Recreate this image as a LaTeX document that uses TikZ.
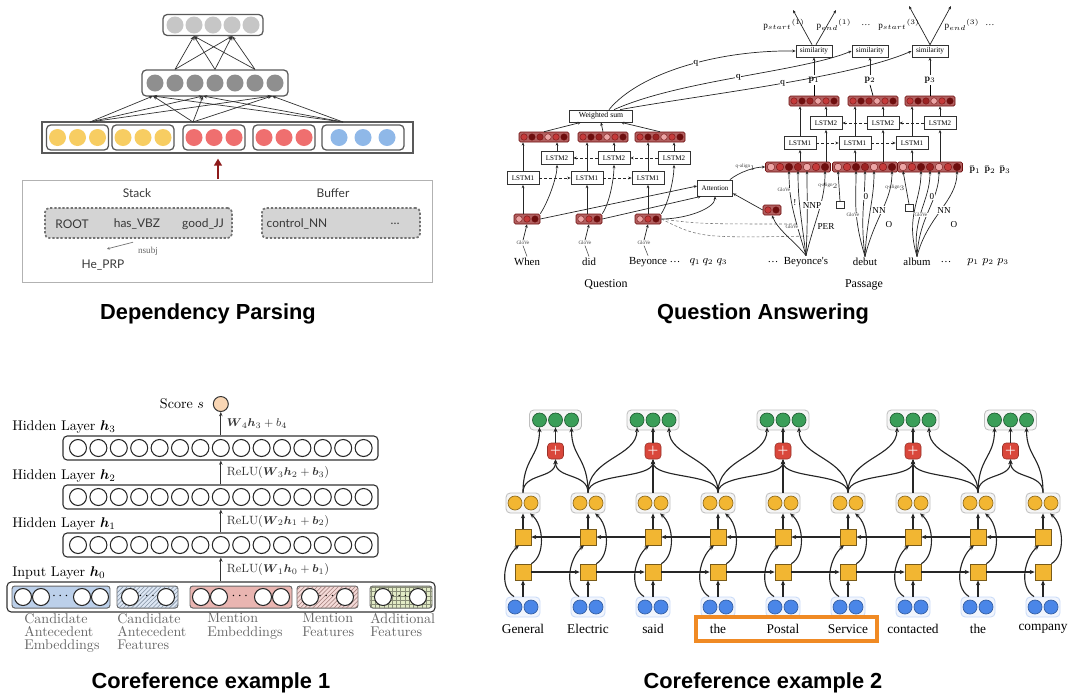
\documentclass[tikz,border=0pt]{standalone}
\usepackage{fontspec}
\usepackage{amsmath}
\usetikzlibrary{arrows.meta,patterns,positioning,calc}

\newfontfamily\headfont{Liberation Sans}
\newfontfamily\dpfont{Lato}
\newfontfamily\qafont{Liberation Serif}

\definecolor{dpyellow}{HTML}{F7CD62}
\definecolor{dpred}{HTML}{EF6F6F}
\definecolor{dpblue}{HTML}{8FB8E8}
\definecolor{dplight}{HTML}{C6C6C6}
\definecolor{dpdark}{HTML}{8F8F8F}
\definecolor{dparrowred}{HTML}{8E1B1B}
\definecolor{qbg}{HTML}{B26060}
\definecolor{qc0}{HTML}{6E0E0E}
\definecolor{qc1}{HTML}{C43A3A}
\definecolor{qc2}{HTML}{EBA5A5}
\definecolor{qc3}{HTML}{9C2323}
\definecolor{cablue}{HTML}{BCD0EA}
\definecolor{cared}{HTML}{E9B5B1}
\definecolor{cagreen}{HTML}{E2EBC6}
\definecolor{scorefill}{HTML}{F9D6B4}
\definecolor{wblue}{HTML}{4A86E8}
\definecolor{wyellow}{HTML}{F2B632}
\definecolor{wgreen}{HTML}{3A9E58}
\definecolor{wred}{HTML}{D9473B}
\definecolor{spanorange}{HTML}{F08A24}

\def\pxu{0.025cm}

% small vector of coloured cells: name, x, y, cells, spacing
\newcommand\qvec[5]{%
  \node[qvecbox, minimum width={(#4*#5+2)*\pxu}] (#1) at (#2,#3) {};
  \foreach \j in {1,...,#4} {
    \pgfmathtruncatemacro\qk{mod(\j*3+#4,4)}
    \node[qdot, fill=qc\qk, minimum size={(#5-1.5)*\pxu}] (#1-\j) at ({#2+(\j-(#4+1)/2)*#5},#3) {};
  }
}

\tikzset{
  paneltitle/.style={font=\headfont\bfseries\fontsize{15.5}{18}\selectfont},
  % dependency parsing
  dpgroup/.style={draw=black!65, line width=0.9pt, rounded corners=3pt, fill=white, minimum height=25*\pxu, inner sep=0},
  dpdot/.style={circle, minimum size=17*\pxu, inner sep=0},
  dptext/.style={font=\dpfont\fontsize{8.5}{10}\selectfont, text=black!78},
  dparr/.style={-{Stealth[length=3pt,width=2.4pt]}, black!80, line width=0.5pt},
  dashbox/.style={draw=black!55, fill=black!17, dash pattern=on 1.6pt off 1.3pt, line width=1.2pt, rounded corners=3pt, minimum height=30*\pxu, inner sep=0},
  % question answering
  qbox/.style={draw=black!80, line width=0.5pt, fill=white, inner sep=0.5pt, font=\qafont\fontsize{5}{6}\selectfont, minimum height=13*\pxu},
  qword/.style={font=\qafont\fontsize{7.7}{9}\selectfont, inner sep=1pt},
  qtiny/.style={font=\qafont\fontsize{3.6}{4}\selectfont, text=black!75, inner sep=0.4pt},
  qlab/.style={font=\qafont\fontsize{6.5}{7}\selectfont, inner sep=0.5pt, fill=white},
  qarr/.style={-{Stealth[length=2.4pt,width=2pt]}, line width=0.5pt, black!85},
  qdash/.style={qarr, dash pattern=on 2pt off 1.5pt},
  qvecbox/.style={draw=qc0, fill=qbg, line width=0.4pt, rounded corners=1pt, minimum height=10*\pxu, inner sep=0},
  qdot/.style={circle, draw=qc0, line width=0.25pt, inner sep=0},
  % coreference 1
  c1layer/.style={draw=black!80, line width=0.8pt, rounded corners=3pt, minimum width=315*\pxu, minimum height=24*\pxu, inner sep=0},
  c1dot/.style={circle, draw=black!85, line width=0.75pt, fill=white, minimum size=17*\pxu, inner sep=0},
  c1grp/.style={draw=black!60, line width=0.7pt, rounded corners=2pt, minimum height=22*\pxu, inner sep=0},
  c1lab/.style={font=\fontsize{10}{11}\selectfont, anchor=west, inner sep=0},
  c1small/.style={font=\fontsize{8.5}{10}\selectfont, anchor=west, inner sep=1pt, xshift=3pt},
  c1under/.style={font=\fontsize{10}{9.4}\selectfont, text=black!60, align=left, anchor=north west, inner sep=0},
  c1arr/.style={-{Stealth[length=3pt,width=2.5pt]}, line width=0.6pt, black!80},
  % coreference 2
  c2word/.style={font=\qafont\fontsize{9.5}{11}\selectfont},
  c2holder/.style={draw=black!25, fill=black!4, rounded corners=3pt, line width=0.6pt, minimum height=20*\pxu, inner sep=0},
  c2dot/.style={circle, line width=0.5pt, minimum size=14*\pxu, inner sep=0},
  c2sq/.style={draw=wyellow!50!black, fill=wyellow, line width=0.5pt, minimum size=16*\pxu, inner sep=0},
  c2plus/.style={fill=wred, draw=wred!70!black, rounded corners=2.5pt, minimum size=16*\pxu, inner sep=0, text=white, font=\bfseries\fontsize{8}{8}\selectfont},
  c2arr/.style={-{Stealth[length=3.5pt,width=3pt]}, line width=0.8pt, black!85},
}

\begin{document}
\begin{tikzpicture}[x=0.025cm, y=-0.025cm]
\useasboundingbox (0,0) rectangle (1070,693);

%% ---------- Dependency Parsing ----------
% Draw the two hidden layers
\node[dpgroup, minimum width=100*\pxu, minimum height=21*\pxu] (dptop) at (213,25) {};
\foreach \i in {0,...,4}
  \node[dpdot, fill=dplight] (dt\i) at (175+19*\i,25) {};
\node[dpgroup, minimum width=146*\pxu, minimum height=26*\pxu] (dpmid) at (215,83) {};
\foreach \i in {0,...,6}
  \node[dpdot, fill=dpdark] (dm\i) at (155+20*\i,83) {};

% Draw the input layer
\node[draw=black!65, line width=0.8pt, fill=white, minimum width=371*\pxu, minimum height=31*\pxu, inner sep=0] (dpin) at (227.5,137.5) {};
\foreach \cx/\gw/\gs/\col [count=\kk] in {77.5/62/20/dpyellow, 143/62/20/dpyellow, 214/62/20/dpred, 284/62/20/dpred, 363/82/24/dpblue} {
  \node[dpgroup, minimum width=\gw*\pxu] (dg\kk) at (\cx,137.5) {};
  \foreach \j [count=\jj] in {-1,0,1}
    \node[dpdot, fill=\col] (dg\kk-\jj) at (\cx+\gs*\j,137.5) {};
}

% Connections between the layers
\foreach \a in {1,3,5}
  \foreach \b in {1,3}
    \draw[dparr] (dpmid.north -| dm\a) -- (dptop.south -| dt\b);
\coordinate (dps1) at (90,122);
\coordinate (dps2) at (193,122);
\coordinate (dps3) at (343,122);
\coordinate (dpt1) at (153,96);
\coordinate (dpt2) at (203,96);
\coordinate (dpt3) at (272,96);
\foreach \a in {1,2,3}
  \foreach \b in {1,2,3}
    \draw[dparr] (dps\a) -- (dpt\b);

% Configuration box
\node[draw=black!30, line width=0.6pt, minimum width=410*\pxu, minimum height=102*\pxu, inner sep=0] (dpframe) at (227,231) {};
\coordinate (dpup) at (218,179);
\draw[-{Triangle[length=5pt,width=5.5pt]}, dparrowred, line width=1.6pt] (dpup) -- ($(dpin.south -| dpup)+(0,5)$);
\node[dptext] (stack) at (137,193) {Stack};
\node[dptext] (buffer) at (333,193) {Buffer};
\node[dashbox, minimum width=187*\pxu] (stackbox) at (138.5,223) {};
\node[dashbox, minimum width=158*\pxu] (bufbox) at (341,223) {};
\node[dptext] (root) at (72,224) {ROOT};
\node[dptext] (has) at (137,224) {has\_VBZ};
\node[dptext] (good) at (203,224) {good\_JJ};
\node[dptext] (ctrl) at (297,224) {control\_NN};
\node[dptext] (bdots) at (395,224) {\dots};
\node[dptext] (he) at (103,265) {He\_PRP};
\draw[-{Stealth[length=2pt,width=2pt]}, black!55, line width=0.5pt] ($(has.south)+(-4,8)$) -- ($(he.north)+(4,-6)$);
\node[font=\qafont\fontsize{6.5}{7}\selectfont, text=black!60] (nsubj) at (148,251) {nsubj};

\node[paneltitle] (title1) at (208,314) {Dependency Parsing};

%% ---------- Question Answering ----------
% Question side
\foreach \n/\x/\qw in {a/527/When, b/589/did, c/648/Beyonce} {
  \node[qword] (qw\n) at (\x,262) {\qw};
  \node[qtiny] (qg\n) at (\x-4,243) {GloVe};
  \qvec{qe\n}{\x}{219}{3}{8}
  \draw[black!70, line width=0.4pt] (qw\n.north) -- (qg\n.south);
  \draw[qarr] (qg\n.north) -- (qe\n.south);
}
\foreach \n/\xa/\xb/\xh in {a/523/557/544, b/587/614/603, c/648/674/660} {
  \node[qbox, minimum width=32*\pxu] (ql1\n) at (\xa,178) {LSTM1};
  \node[qbox, minimum width=32*\pxu] (ql2\n) at (\xb,158) {LSTM2};
  \qvec{qh\n}{\xh}{137}{6}{8}
  \draw[qarr] (qe\n.north -| ql1\n) -- (ql1\n.south);
  \draw[qarr] (qe\n.north east) .. controls +(8,-12) and +(0,12) .. (ql2\n.south);
  \draw[qarr] (ql1\n.north) -- (qh\n.south -| ql1\n);
  \draw[qarr] (ql2\n.north) -- (qh\n.south -| ql2\n);
}
\draw[qdash] (ql1a) -- (ql1b);
\draw[qdash] (ql1b) -- (ql1c);
\draw[qdash] (ql2c) -- (ql2b);
\draw[qdash] (ql2b) -- (ql2a);

\node[qbox, minimum width=63*\pxu, minimum height=12*\pxu, font=\qafont\fontsize{5.5}{6}\selectfont] (qws) at (601,116) {Weighted sum};
\draw[qarr] (qha.north) -- ($(qws.south)+(-20,0)$);
\draw[qarr] (qhb.north) -- (qws.south);
\draw[qarr] (qhc.north) -- ($(qws.south)+(20,0)$);

\node[qword] (qdots) at (675,262) {\dots};
\node[qword] (qq1) at (695,262) {$q_1$};
\node[qword] (qq2) at (708,262) {$q_2$};
\node[qword] (qq3) at (722,262) {$q_3$};
\node[qword, font=\qafont\fontsize{8.5}{10}\selectfont] (qlabel) at (606,285) {Question};

% Attention
\node[qbox, minimum width=35*\pxu, minimum height=16*\pxu] (qatt) at (715,188) {Attention};
\draw[qarr] (qea.east) -- ($(qatt.west)+(0,-2)$);
\draw[qarr] (qeb.east) -- ($(qatt.south west)+(4,0)$);
\draw[qarr] (qec.east) .. controls +(25,0) and +(0,12) .. (qatt.south);
\qvec{qsm}{772}{210}{2}{8}
\draw[qarr] (qsm.west) -- ($(qatt.south east)+(0,-3)$);
\coordinate (qd1) at (798,224);
\coordinate (qd2) at (812,236);
\draw[black!55, line width=0.4pt, dash pattern=on 2pt off 1.5pt] (qec.east) .. controls (700,224) .. (qd1);
\draw[black!55, line width=0.4pt, dash pattern=on 2pt off 1.5pt] (qec.east) .. controls (700,238) .. (qd2);

% Passage side
\foreach \n/\xe/\xa/\xb/\xh/\xs/\kk in {a/798/800/826/814/814/1, b/865/855/883/873/870/2, c/930/912/940/930/930/3} {
  \qvec{pe\n}{\xe}{167}{7}{9}
  \node[qbox, minimum width=32*\pxu] (pl1\n) at (\xa,143) {LSTM1};
  \node[qbox, minimum width=32*\pxu] (pl2\n) at (\xb,123) {LSTM2};
  \qvec{ph\n}{\xh}{101}{6}{8}
  \node[font=\fontsize{7}{8}\selectfont, inner sep=1pt] (pP\n) at (\xs,80) {$\mathbf{p}_{\kk}$};
  \node[qbox, minimum width=36*\pxu, minimum height=12*\pxu, font=\qafont\fontsize{5.2}{6}\selectfont] (sim\n) at (\xs,51) {similarity};
  \draw[qarr] (pe\n.north -| pl1\n) -- (pl1\n.south);
  \draw[qarr] (pe\n.north -| pl2\n) -- (pl2\n.south);
  \draw[qarr] (pl1\n.north) -- (ph\n.south -| pl1\n);
  \draw[qarr] (pl2\n.north) -- (ph\n.south -| pl2\n);
  \draw[line width=0.5pt] (ph\n.north) -- (pP\n.south);
  \draw[qarr] (pP\n.north) -- (sim\n.south);
}
\draw[qdash] (pl1a) -- (pl1b);
\draw[qdash] (pl1b) -- (pl1c);
\draw[qdash] (pl2c) -- (pl2b);
\draw[qdash] (pl2b) -- (pl2a);
\draw[qarr] ($(qatt.north east)+(-3,0)$) .. controls +(10,-8) and +(-10,0) .. (pea.west) node[qtiny, pos=0.45, above] {q-align$_1$};

% Answer scores
\coordinate (s1l) at (793,10);
\coordinate (s1r) at (836,10);
\coordinate (s3l) at (909,6);
\coordinate (s3r) at (951,6);
\draw[qarr] ($(sima.north)+(-2,0)$) -- (s1l);
\draw[qarr] ($(sima.north)+(2,0)$) -- (s1r);
\draw[qarr] (simc.north) -- (s3l);
\draw[qarr] (simc.north) -- (s3r);
\node[qlab, fill=none] (ps1) at (784,25) {p$_{start}$$^{(1)}$};
\node[qlab, fill=none] (pe1l) at (834,25) {p$_{end}$$^{(1)}$};
\node[qlab, fill=none] (pdd1) at (866,25) {\dots};
\node[qlab, fill=none] (ps3) at (899,25) {p$_{start}$$^{(3)}$};
\node[qlab, fill=none] (pe3l) at (962,25) {p$_{end}$$^{(3)}$};
\node[qlab, fill=none] (pdd3) at (990,25) {\dots};

% Question vectors
\draw[qarr] ($(qws.north)+(8,0)$) .. controls (640,72) and (720,50) .. (sima.west) node[qlab, pos=0.55] {$\mathbf{q}$};
\draw[qarr] ($(qws.north)+(13,0)$) .. controls (680,80) and (800,72) .. (simb.west) node[qlab, pos=0.5] {$\mathbf{q}$};
\draw[qarr] ($(qws.north)+(19,0)$) .. controls (700,95) and (850,78) .. (simc.west) node[qlab, pos=0.53] {$\mathbf{q}$};

% Passage words and features
\node[qword] (pdots) at (773,262) {\dots};
\node[qword] (pwa) at (806,262) {Beyonce's};
\node[qword] (pwb) at (865,262) {debut};
\node[qword] (pwc) at (917,262) {album};
\node[qword] (pdots2) at (946,262) {\dots};
\node[qword] (pp1) at (973,262) {$p_1$};
\node[qword] (pp2) at (988,262) {$p_2$};
\node[qword] (pp3) at (1003,262) {$p_3$};
\node[qword, font=\qafont\fontsize{8.5}{10}\selectfont] (plabel) at (864,285) {Passage};
\node[font=\fontsize{7}{8}\selectfont] (pbar1) at (975,170) {$\bar{\mathbf{p}}_1$};
\node[font=\fontsize{7}{8}\selectfont] (pbar2) at (990,170) {$\bar{\mathbf{p}}_2$};
\node[font=\fontsize{7}{8}\selectfont] (pbar3) at (1005,170) {$\bar{\mathbf{p}}_3$};

\draw[qarr] (pwa.north) .. controls +(-12,-15) and +(6,15) .. (qsm.south);
\foreach \n in {a,b,c} {
  \draw[qarr] (pw\n.north) .. controls +(-12,-40) and +(0,30) .. (pe\n-3.south);
  \draw[qarr] (pw\n.north) .. controls +(-5,-40) and +(0,30) .. (pe\n-4.south);
  \draw[qarr] (pw\n.north) .. controls +(2,-40) and +(0,30) .. (pe\n-5.south);
  \draw[qarr] (pw\n.north) .. controls +(10,-40) and +(0,30) .. (pe\n-7.south);
}
\node[qtiny, fill=white] (pga) at (784,190) {GloVe};
\node[qtiny, fill=white] (pgq) at (792,227) {GloVe};
\node[qlab] (pbang) at (795,203) {!};
\node[qlab] (pnnp) at (812,205) {NNP};
\node[qlab] (pper) at (826,226) {PER};
\node[qtiny, fill=white] (pgb) at (853,215) {GloVe};
\node[qlab] (pb0) at (866,196) {0};
\node[qlab] (pbnn) at (879,210) {NN};
\node[qlab] (pbo) at (889,225) {O};
\node[qtiny, fill=white] (pgc) at (921,215) {GloVe};
\node[qlab] (pc0) at (932,196) {0};
\node[qlab] (pcnn) at (944,210) {NN};
\node[qlab] (pco) at (954,225) {O};
\node[draw=black!80, fill=white, line width=0.4pt, minimum width=8*\pxu, minimum height=7*\pxu, inner sep=0] (qa2) at (840,205) {};
\node[draw=black!80, fill=white, line width=0.4pt, minimum width=8*\pxu, minimum height=7*\pxu, inner sep=0] (qa3) at (909,208) {};
\draw[qarr] (qa2.north) -- (peb-1.south) node[qtiny, midway, left] {q-align$_2$};
\draw[qarr] (qa3.north) -- (pec-1.south) node[qtiny, midway, left] {q-align$_3$};

\node[paneltitle] (title2) at (763,314) {Question Answering};

%% ---------- Coreference example 1 ----------
% Draw the hidden layers
\foreach \yy/\n in {448/3, 497/2, 545/1} {
  \node[c1layer] (ch\n) at (220.5,\yy) {};
  \foreach \i in {0,...,14}
    \node[c1dot] (ch\n-\i) at (78+20.4*\i,\yy) {};
  \node[c1lab] (chl\n) at (12,\yy-21) {Hidden Layer $\boldsymbol{h}_{\n}$};
}

% Draw the input layer
\node[c1layer, minimum width=428*\pxu, minimum height=30*\pxu] (ch0) at (221,597) {};
\node[c1lab] (chl0) at (12,573) {Input Layer $\boldsymbol{h}_0$};
\node[c1grp, minimum width=98*\pxu, fill=cablue] (cg1) at (61,597) {};
\node[c1grp, minimum width=61*\pxu, fill=cablue!50, postaction={pattern=north east lines, pattern color=cablue!70!black}] (cg2) at (147.5,597) {};
\node[c1grp, minimum width=102*\pxu, fill=cared] (cg3) at (241,597) {};
\node[c1grp, minimum width=61*\pxu, fill=cared!50, postaction={pattern=north east lines, pattern color=cared!70!black}] (cg4) at (327.5,597) {};
\node[c1grp, minimum width=62*\pxu, fill=cagreen, postaction={pattern=grid, pattern color=cagreen!60!black}] (cg5) at (401,597) {};
\foreach \x [count=\kk] in {23,41,82,100,130,166,201,219,263,281,310,345,383,418}
  \node[c1dot] (cin\kk) at (\x,597) {};
\foreach \x [count=\kk] in {61.5,148,241,327.5,400.5}
  \node[inner sep=0, font=\bfseries] (cdots\kk) at (\x,596) {$\cdots$};
\node[c1under] (cu1) at (24,613) {Candidate\\Antecedent\\Embeddings};
\node[c1under] (cu2) at (117,613) {Candidate\\Antecedent\\Features};
\node[c1under] (cu3) at (207,613) {Mention\\Embeddings};
\node[c1under] (cu4) at (302,613) {Mention\\Features};
\node[c1under] (cu5) at (370,613) {Additional\\Features};

% Arrows between the layers
\draw[c1arr] (ch0.north -| ch1-7) -- (ch1.south -| ch1-7) node[c1small, midway] {ReLU($\boldsymbol{W}_1\boldsymbol{h}_0+\boldsymbol{b}_1$)};
\draw[c1arr] (ch1.north -| ch1-7) -- (ch2.south -| ch1-7) node[c1small, midway] {ReLU($\boldsymbol{W}_2\boldsymbol{h}_1+\boldsymbol{b}_2$)};
\draw[c1arr] (ch2.north -| ch1-7) -- (ch3.south -| ch1-7) node[c1small, midway] {ReLU($\boldsymbol{W}_3\boldsymbol{h}_2+\boldsymbol{b}_3$)};
\node[circle, draw=black!80, fill=scorefill, line width=0.7pt, minimum size=15*\pxu, inner sep=0] (score) at (220.8,404) {};
\draw[c1arr] (ch3.north -| score) -- (score.south) node[c1small, midway] {$\boldsymbol{W}_4\boldsymbol{h}_3+b_4$};
\node[c1lab, left=6pt of score] (scorelab) {Score $s$};

\node[paneltitle] (title3) at (211,683) {Coreference example 1};

%% ---------- Coreference example 2 ----------
% Words, embeddings and the two LSTM layers
\foreach \wrd [count=\i from 0] in {General,Electric,said,the,Postal,Service,contacted,the,company} {
  \pgfmathsetmacro\xc{523+65*\i}
  \node[c2word] (cw\i) at (\xc,629) {\wrd};
  \node[c2holder, minimum width=34*\pxu, fill=wblue!8, draw=wblue!30] (ce\i) at (\xc,607) {};
  \node[c2dot, fill=wblue, draw=wblue!70!black] (ce\i-1) at (\xc-8,607) {};
  \node[c2dot, fill=wblue, draw=wblue!70!black] (ce\i-2) at (\xc+8,607) {};
  \node[c2sq] (ca\i) at (\xc,572) {};
  \node[c2sq] (cb\i) at (\xc,537) {};
  \node[c2holder, minimum width=34*\pxu] (co\i) at (\xc,503) {};
  \node[c2dot, fill=wyellow, draw=wyellow!60!black] (co\i-1) at (\xc-8,503) {};
  \node[c2dot, fill=wyellow, draw=wyellow!60!black] (co\i-2) at (\xc+8,503) {};
  \draw[c2arr] (ce\i) -- (ca\i);
  \draw[c2arr] (cb\i) -- (co\i);
  \draw[c2arr] ($(ce\i.north)+(-9,0)$) .. controls +(-16,-10) and +(-14,12) .. ($(cb\i.south)+(-4,0)$);
  \draw[c2arr] (ca\i.north east) .. controls +(14,-8) and +(14,12) .. ($(co\i.south)+(7,0)$);
}
\foreach \i [count=\j from 1] in {0,...,7} {
  \draw[c2arr] (ca\i) -- (ca\j);
  \draw[c2arr] (cb\j) -- (cb\i);
}

% Span representations
\foreach \s/\e/\m [count=\kk] in {0/1/-1, 1/3/2, 3/5/4, 5/7/6, 7/8/-1} {
  \pgfmathsetmacro\gx{523+32.5*(\s+\e)}
  \node[c2holder, minimum width=52*\pxu] (cg\kk) at (\gx,420) {};
  \foreach \dx [count=\dd] in {-16,0,16}
    \node[c2dot, fill=wgreen, draw=wgreen!60!black] (cg\kk-\dd) at (\gx+\dx,420) {};
  \node[c2plus] (cr\kk) at (\gx,451) {+};
  \draw[c2arr] (co\s.north) .. controls +(0,-35) and +(0,30) .. (cg\kk-1.south);
  \draw[c2arr] (co\e.north) .. controls +(0,-35) and +(0,30) .. (cg\kk-3.south);
  \draw[c2arr] (co\s.north) .. controls +(0,-20) and +(0,20) .. (cr\kk.south);
  \draw[c2arr] (co\e.north) .. controls +(0,-20) and +(0,20) .. (cr\kk.south);
  \ifnum\m>-1 \draw[c2arr] (co\m.north) -- (cr\kk.south); \fi
  \draw[c2arr] (cr\kk) -- (cg\kk-2);
}

% Mention span
\node[draw=spanorange, line width=2.2pt, minimum width=181*\pxu, minimum height=24*\pxu, inner sep=0] (cspan) at (786.5,629) {};

\node[paneltitle] (title4) at (763,683) {Coreference example 2};

\end{tikzpicture}
\end{document}
